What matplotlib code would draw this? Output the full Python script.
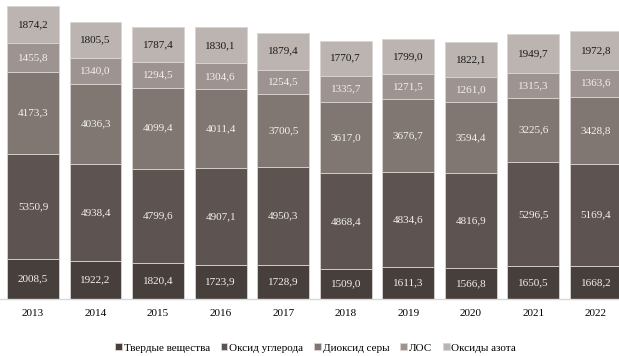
import matplotlib
matplotlib.use('Agg')
import matplotlib.pyplot as plt
import numpy as np

years = ['2013', '2014', '2015', '2016', '2017', '2018', '2019', '2020', '2021', '2022']
solids = [2008.5, 1922.2, 1820.4, 1723.9, 1728.9, 1509.0, 1611.3, 1566.8, 1650.5, 1668.2]
co = [5350.9, 4938.4, 4799.6, 4907.1, 4950.3, 4868.4, 4834.6, 4816.9, 5296.5, 5169.4]
so2 = [4173.3, 4036.3, 4099.4, 4011.4, 3700.5, 3617.0, 3676.7, 3594.4, 3225.6, 3428.8]
voc = [1455.8, 1340.0, 1294.5, 1304.6, 1254.5, 1335.7, 1271.5, 1261.0, 1315.3, 1363.6]
nox = [1874.2, 1805.5, 1787.4, 1830.1, 1879.4, 1770.7, 1799.0, 1822.1, 1949.7, 1972.8]

series = [
    ('Твердые вещества', solids, '#473f3c', '#f2f0ef'),
    ('Оксид углерода', co, '#5d5451', '#f2f0ef'),
    ('Диоксид серы', so2, '#807772', '#f2f0ef'),
    ('ЛОС', voc, '#9d9390', '#f2f0ef'),
    ('Оксиды азота', nox, '#bcb4b1', '#1a1a1a'),
]

plt.rcParams['font.family'] = ['Liberation Serif', 'DejaVu Serif']

fig = plt.figure(figsize=(6.19, 3.56), dpi=100)
ax = fig.add_axes([0, 0.16, 1, 0.84])

x = np.arange(len(years))
bottom = np.zeros(len(years))
for name, vals, color, tcolor in series:
    vals = np.array(vals)
    ax.bar(x, vals, 0.83, bottom=bottom, color=color, edgecolor='#d8d4d2',
           linewidth=0.6, label=name)
    for xi, b, v in zip(x, bottom, vals):
        ax.text(xi, b + v / 2, f'{v:.1f}'.replace('.', ','), ha='center',
                va='center', fontsize=8, color=tcolor)
    bottom += vals

ax.set_xlim(-0.527, 9.368)
ax.set_ylim(0, 15167)
ax.set_yticks([])
ax.set_xticks(x)
ax.set_xticklabels(years, fontsize=8)
ax.tick_params(axis='x', length=0, pad=7)
for side in ['top', 'left', 'right']:
    ax.spines[side].set_visible(False)
ax.spines['bottom'].set_color('#d9d9d9')
ax.spines['bottom'].set_linewidth(1)

ax.legend(loc='center', bbox_to_anchor=(0.51, -0.163), ncol=5, frameon=False,
          fontsize=8, handlelength=0.6, handleheight=0.6, handletextpad=0.15,
          columnspacing=1.0)

fig.savefig('out.png', dpi=100)
